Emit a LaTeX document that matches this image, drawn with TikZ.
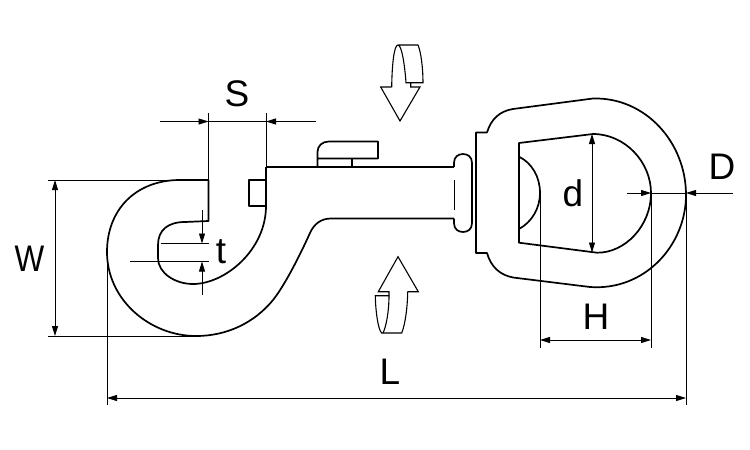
\documentclass[tikz,border=0pt]{standalone}
\usepackage{fontspec}
\setmainfont{Liberation Sans}
\usetikzlibrary{arrows.meta}
\tikzset{
  part/.style={draw=black,line width=1.7pt,line join=round,fill=none},
  thin part/.style={draw=black,line width=1.1pt,line join=miter},
  dim/.style={draw=black,line width=0.9pt},
  dimtip/.style={-{Triangle[length=10pt,width=6pt]}},
  dimboth/.style={{Triangle[length=10pt,width=6pt]}-{Triangle[length=10pt,width=6pt]}},
  lab/.style={inner sep=0pt,font=\fontsize{37}{37}\selectfont}
}
\begin{document}
\begin{tikzpicture}[x=1pt,y=-1pt]
\useasboundingbox (0,0) rectangle (750,450);
\fill[white] (0,0) rectangle (750,450);
% hook
\draw[part] (266,167) -- (454,167);
\draw[part] (208.5,180) -- (178,180) .. controls (135,181) and (107,210) .. (107,252)
  .. controls (107,300) and (150,336) .. (196,336)
  .. controls (228,336) and (255,322) .. (273,300)
  .. controls (285,285) and (300,255) .. (310,233)
  .. controls (314,224) and (321,218.5) .. (331,218.5) -- (454,218.5);
\draw[part] (208.5,180) -- (208.5,221) -- (185,222) .. controls (168,222) and (158,230) .. (158,245)
  -- (158,258) .. controls (158,273) and (175,284) .. (193,284)
  .. controls (225,284) and (266,250) .. (266,206) -- (266,167);
\draw[part] (266,180) -- (249,180) -- (249,206) -- (266,206);
% thumb latch
\draw[part] (317.5,167) -- (317.5,152) .. controls (317.5,146) and (322,141.5) .. (329,141.5)
  -- (378,141.5) -- (378,158.5) -- (317.5,158.5);
\draw[part] (352,158.5) -- (352,167);
% collar
\draw[part] (454,167) -- (454,163) .. controls (454,157) and (458,154) .. (463,154)
  .. controls (468,154) and (472,157) .. (472,163) -- (472,223)
  .. controls (472,229) and (468,232) .. (463,232)
  .. controls (458,232) and (454,229) .. (454,223) -- (454,218.5);
\draw[part] (454.5,180) -- (454.5,210);
% swivel eye
\draw[part] (487,132.5) -- (476,132.5) -- (476,253) -- (487,253)
  .. controls (491,267) and (500,275) .. (513,277.5)
  -- (590,287) .. controls (645,291) and (686,245) .. (686,195)
  .. controls (686,142) and (645,97) .. (593,98.5)
  -- (513,109) .. controls (500,111) and (491,119) .. (487,132.5);
\draw[part] (519,143) -- (593,134) .. controls (625,134) and (651,162) .. (651,193)
  .. controls (651,226) and (625,253) .. (597,252.7) -- (519,242.7) -- cycle;
\draw[part] (519,156.7) .. controls (532,163) and (540,177) .. (540,193)
  .. controls (540,208) and (532,222) .. (519,229);
% rotation arrows
\draw[thin part] (391.7,87) .. controls (392,65) and (394,45) .. (398,45) -- (418,45)
  .. controls (421,52) and (423,68) .. (423,82.7) -- (406,82.7)
  .. controls (405,68) and (402,45) .. (398,45);
\draw[thin part] (410.7,82.7) -- (410.7,87) -- (420,87) -- (400,121) -- (380.7,87) -- (391.7,87);
\draw[thin part] (407.7,291.7) -- (418.3,291.7) -- (398,256.7) -- (378.3,291.7) -- (389,291.7) -- (389,295.7)
  -- (375.3,295.7) .. controls (375.5,310) and (378,330) .. (381.7,333) -- (401.7,333)
  .. controls (405,325) and (407.5,308) .. (407.7,291.7);
\draw[thin part] (389,295.7) .. controls (389,312) and (386,327) .. (383,333);
% S
\draw[dim] (208.5,113) -- (208.5,180);
\draw[dim] (266,113) -- (266,167);
\draw[dim] (208.5,121.5) -- (266,121.5);
\draw[dim,dimtip] (160,121.5) -- (208.5,121.5);
\draw[dim,dimtip] (316,121.5) -- (266,121.5);
% t
\draw[dim] (161,243.5) -- (209,243.5);
\draw[dim] (130,261.5) -- (209,261.5);
\draw[dim,dimtip] (202,210) -- (202,243.5);
\draw[dim,dimtip] (202,295) -- (202,261.5);
% W
\draw[dim] (48,180) -- (178,180);
\draw[dim] (48,336) -- (196,336);
\draw[dim,dimboth] (55,180) -- (55,336);
% L
\draw[dim] (107,252) -- (107,405);
\draw[dim] (686,195) -- (686,405);
\draw[dim,dimboth] (107,398) -- (686,398);
% H
\draw[dim] (540,193) -- (540,348);
\draw[dim] (651,193) -- (651,348);
\draw[dim,dimboth] (540,340) -- (651,340);
% d
\draw[dim,dimboth] (592,134) -- (592,252.5);
% D
\draw[dim,dimtip] (627,193) -- (651,193);
\draw[dim] (651,193) -- (686,193);
\draw[dim,dimtip] (733,193) -- (686,193);
% labels
\node[lab] (labS) at (237,94) {S};
\node[lab,xscale=.85] (labW) at (29.5,259) {W};
\node[lab] (labt) at (221,252) {t};
\node[lab] (labL) at (390,372) {L};
\node[lab] (labd) at (573,193) {d};
\node[lab] (labH) at (596,317) {H};
\node[lab] (labD) at (722,167) {D};
\end{tikzpicture}
\end{document}
